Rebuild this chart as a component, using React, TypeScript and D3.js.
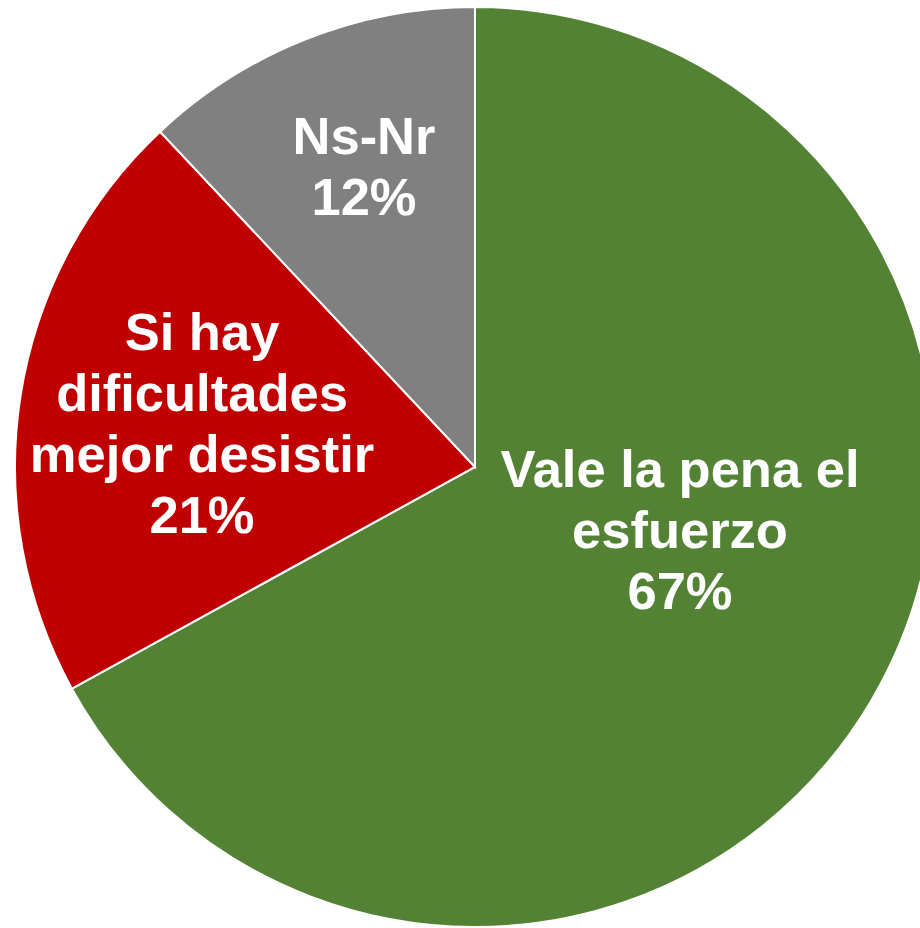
import React from "react";
import * as d3 from "d3";

const categories = ["Vale la pena el esfuerzo", "Si hay dificultades mejor desistir", "Ns-Nr"];
const values = [67, 21, 12];
const colors = ["#548235", "#C00000", "#808080"];
const labelLines = [
  ["Vale la pena el", "esfuerzo", "67%"],
  ["Si hay", "dificultades", "mejor desistir", "21%"],
  ["Ns-Nr", "12%"],
];
// label anchor positions (x center, first baseline y)
const labelPos = [
  [680, 487],
  [202, 350],
  [364, 154],
];

export default function App() {
  const W = 920, H = 928;
  const cx = 475, cy = 467, r = 460;
  const pie = d3.pie<number>().sort(null).value((d) => d)(values);
  const arc = d3.arc<d3.PieArcDatum<number>>().innerRadius(0).outerRadius(r);
  const lh = 61;
  return (
    <svg width={W} height={H} style={{ position: "absolute", left: 0, top: 0 }}>
      <rect width={W} height={H} fill="#fff" />
      <g transform={`translate(${cx},${cy})`}>
        {pie.map((p, i) => (
          <path key={categories[i]} d={arc(p) || ""} fill={colors[i]} stroke="#fff" strokeWidth={2} />
        ))}
      </g>
      {labelLines.map((lines, i) => (
        <text
          key={i}
          fill="#fff"
          fontFamily="'Liberation Sans', Arial, sans-serif"
          fontWeight="bold"
          fontSize={52.5}
          textAnchor="middle"
        >
          {lines.map((l, j) => (
            <tspan key={j} x={labelPos[i][0]} y={labelPos[i][1] + j * lh}>
              {l}
            </tspan>
          ))}
        </text>
      ))}
    </svg>
  );
}
